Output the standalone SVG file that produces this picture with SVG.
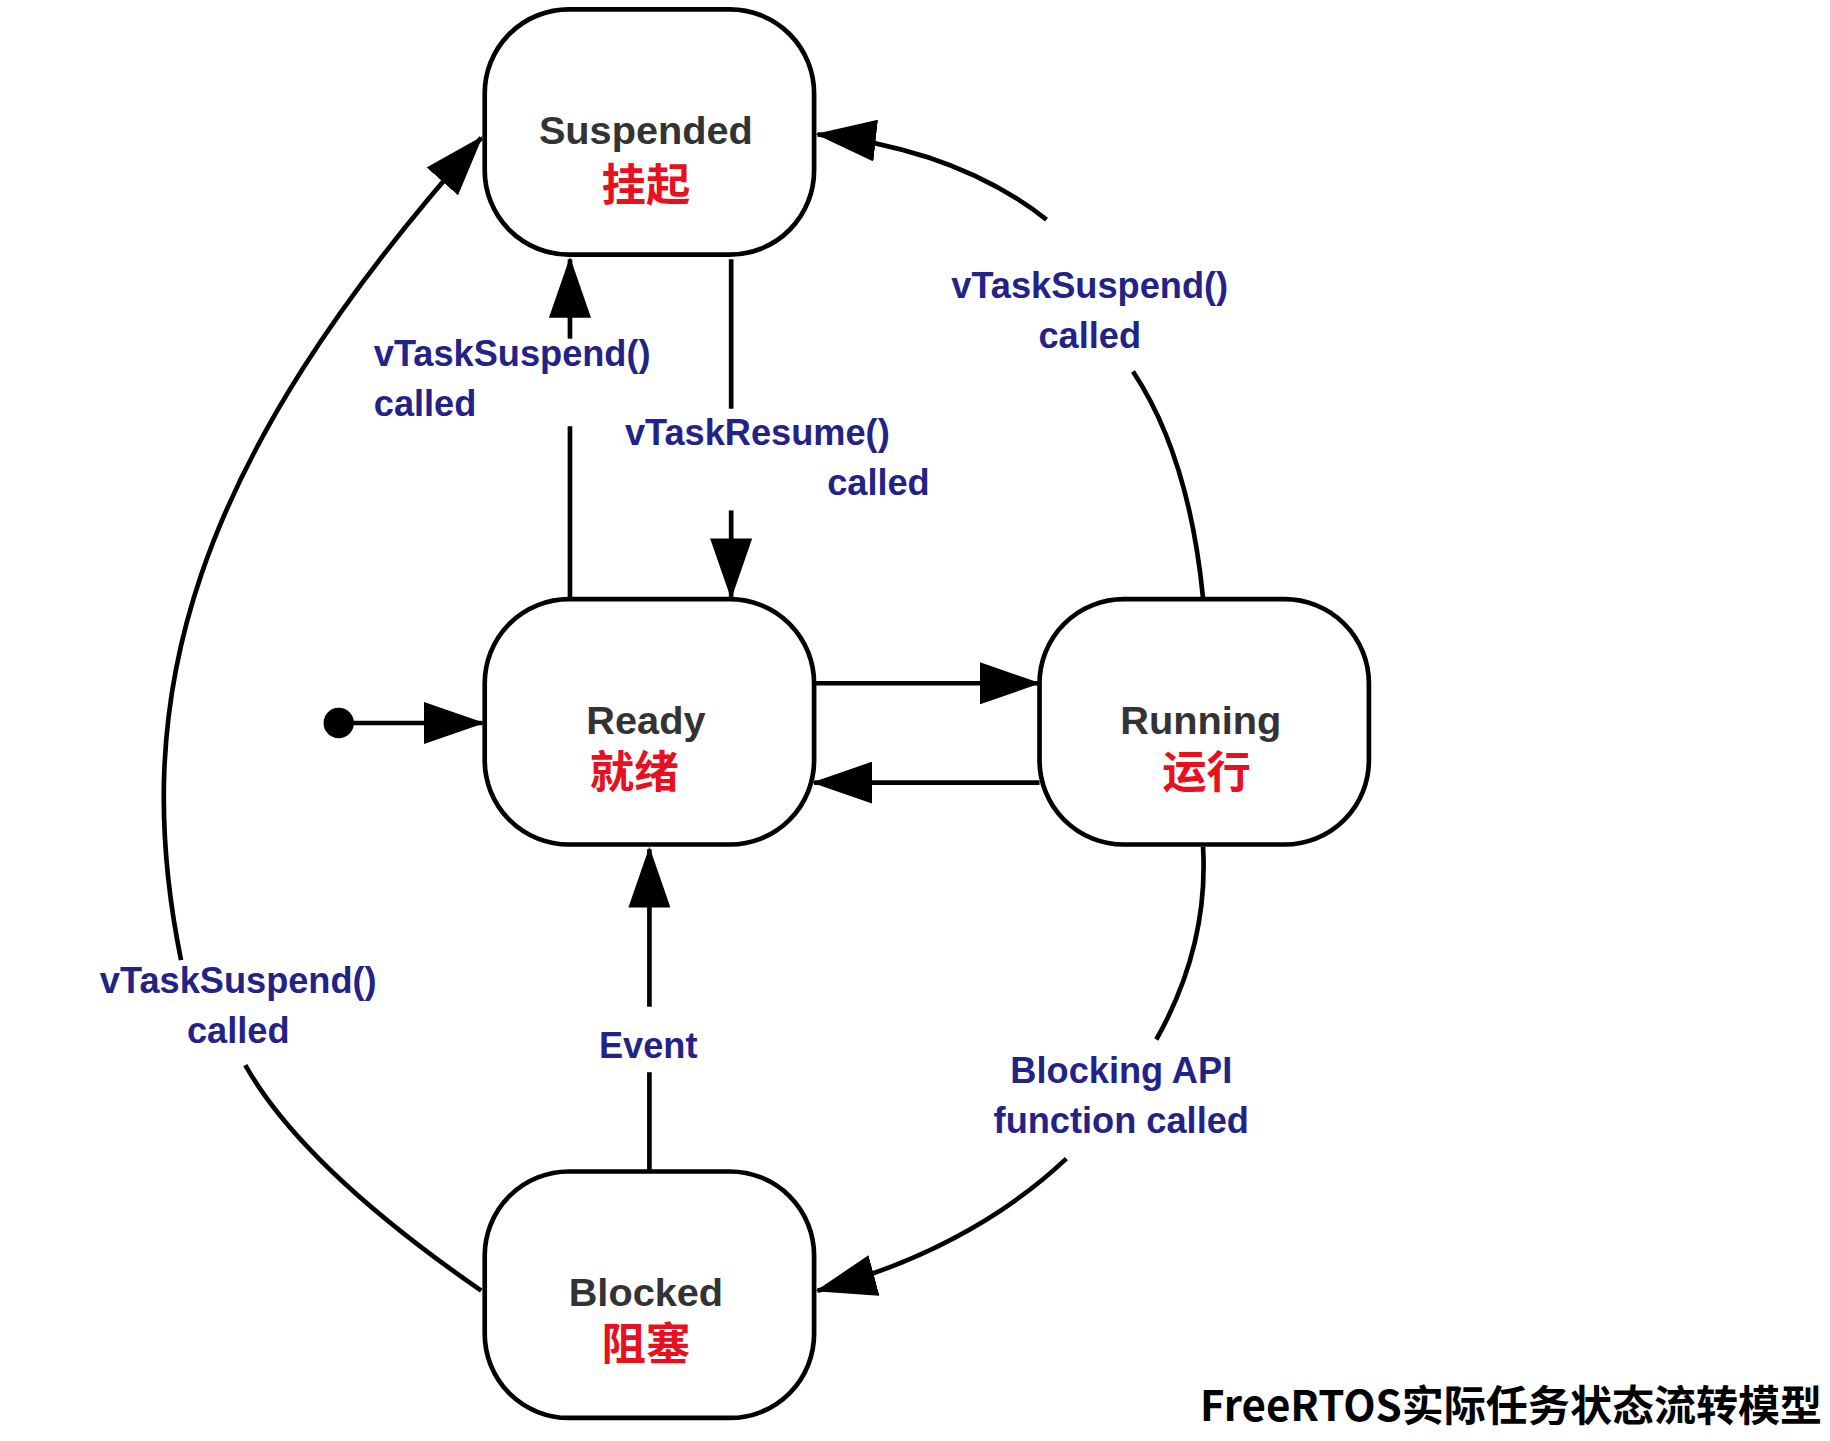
<svg xmlns="http://www.w3.org/2000/svg" width="1830" height="1441" viewBox="0 0 1830 1441">
<style>
.box{fill:#fff;stroke:#000;stroke-width:4}
.en{font-family:"Liberation Sans",Arial,sans-serif;font-weight:bold;font-size:34px;fill:#333;text-anchor:middle}
.cn{font-family:"Noto Sans CJK SC",sans-serif;font-weight:bold;font-size:38px;fill:#e8101e;text-anchor:middle}
.lb{font-family:"Liberation Sans",Arial,sans-serif;font-weight:bold;font-size:31px;fill:#232387}
.ln{fill:none;stroke:#000;stroke-width:4}
</style>
<defs>
<marker id="ah" markerUnits="userSpaceOnUse" markerWidth="52" markerHeight="36" refX="50" refY="18" orient="auto">
<path d="M0,0 L52,18 L0,36 Z" fill="#000"/>
</marker>
</defs>
<rect width="1830" height="1441" fill="#fff"/>
<g transform="scale(1.168)">
<g id="connectors">
<line class="ln" x1="488" y1="512" x2="488" y2="365"/>
<line class="ln" x1="488" y1="290" x2="488" y2="222" marker-end="url(#ah)"/>
<line class="ln" x1="626" y1="222" x2="626" y2="350"/>
<line class="ln" x1="626" y1="437" x2="626" y2="511" marker-end="url(#ah)"/>
<line class="ln" x1="697" y1="585" x2="889" y2="585" marker-end="url(#ah)"/>
<line class="ln" x1="890" y1="670" x2="697" y2="670" marker-end="url(#ah)"/>
<circle cx="290" cy="619" r="13" fill="#000"/>
<line class="ln" x1="290" y1="619" x2="413" y2="619" marker-end="url(#ah)"/>
<line class="ln" x1="556" y1="1002" x2="556" y2="918"/>
<line class="ln" x1="556" y1="862" x2="556" y2="727" marker-end="url(#ah)"/>
<path class="ln" d="M1030,512 Q1018,390 970,318"/>
<path class="ln" d="M896,188 Q820,128 700,115" marker-end="url(#ah)"/>
<path class="ln" d="M1030,725 Q1035,810 990,890"/>
<path class="ln" d="M913,992 Q830,1070 700,1105" marker-end="url(#ah)"/>
<path class="ln" d="M412,1105 Q260,1000 210,912"/>
<path class="ln" d="M155,822 C110,600 160,400 412,118" marker-end="url(#ah)"/>
</g>
<g id="suspended"><rect class="box" x="415" y="8" width="282" height="210" rx="72"/>
<text class="en" x="553" y="123">Suspended</text><text class="cn" x="553" y="172">挂起</text></g>
<g id="ready"><rect class="box" x="415" y="513" width="282" height="210" rx="72"/>
<text class="en" x="553" y="628">Ready</text><text class="cn" x="543" y="675">就绪</text></g>
<g id="running"><rect class="box" x="890" y="513" width="282" height="210" rx="72"/>
<text class="en" x="1028" y="628">Running</text><text class="cn" x="1033" y="675">运行</text></g>
<g id="blocked"><rect class="box" x="415" y="1003" width="282" height="211" rx="72"/>
<text class="en" x="553" y="1118">Blocked</text><text class="cn" x="553" y="1164">阻塞</text></g>
<g id="labels">
<text class="lb" x="320" y="313">vTaskSuspend()</text><text class="lb" x="320" y="356">called</text>
<text class="lb" x="535" y="381">vTaskResume()</text><text class="lb" x="796" y="424" text-anchor="end">called</text>
<text class="lb" x="933" y="255" text-anchor="middle">vTaskSuspend()</text><text class="lb" x="933" y="298" text-anchor="middle">called</text>
<text class="lb" x="204" y="850" text-anchor="middle">vTaskSuspend()</text><text class="lb" x="204" y="893" text-anchor="middle">called</text>
<text class="lb" x="555" y="906" text-anchor="middle">Event</text>
<text class="lb" x="960" y="927" text-anchor="middle">Blocking API</text><text class="lb" x="960" y="970" text-anchor="middle">function called</text>
</g>
<text x="1560" y="1217" text-anchor="end" font-family="'Noto Sans CJK SC',sans-serif" font-weight="bold" font-size="36" fill="#000">FreeRTOS实际任务状态流转模型</text>
</g>
</svg>
